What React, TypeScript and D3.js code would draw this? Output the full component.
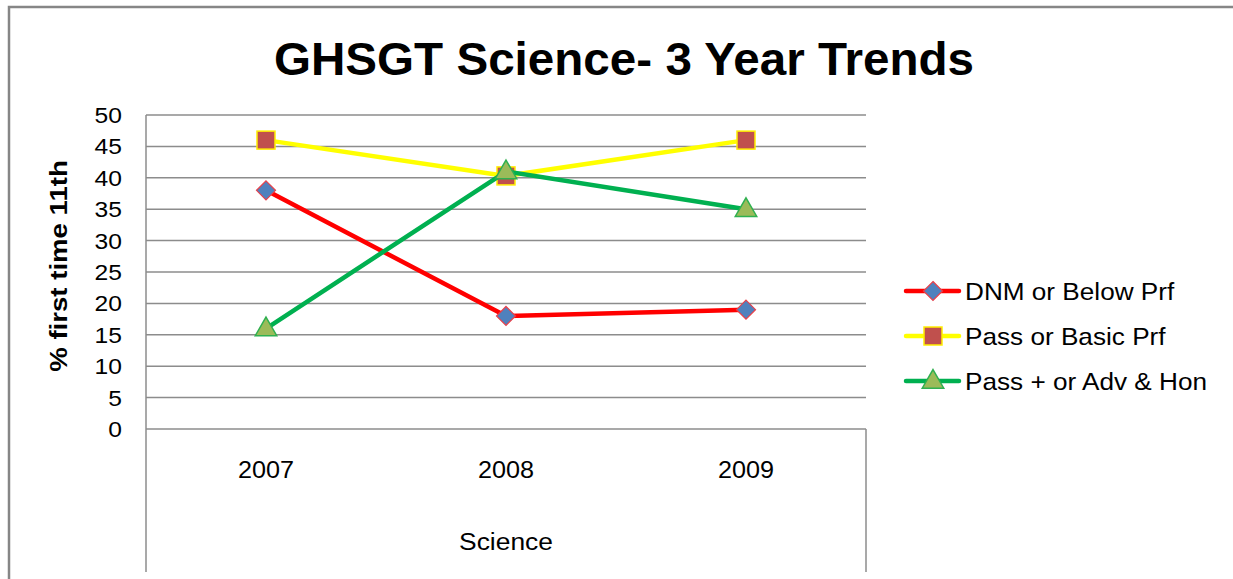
import React from "react";
import * as d3 from "d3";

const years = ["2007", "2008", "2009"];
const dnmBelow = [38, 18, 19];
const passBasic = [46, 40.3, 46];
const passPlusAdv = [16, 41, 35];
const yTicks = [0, 5, 10, 15, 20, 25, 30, 35, 40, 45, 50];

const seriesList = [
  { name: "DNM or Below Prf", values: dnmBelow, line: "#ff0000", fill: "#4f81bd", stroke: "#e8404a", shape: "diamond" },
  { name: "Pass or Basic Prf", values: passBasic, line: "#ffff00", fill: "#c0504d", stroke: "#ffee00", shape: "square" },
  { name: "Pass + or Adv & Hon", values: passPlusAdv, line: "#00b050", fill: "#9bbb59", stroke: "#2fb050", shape: "triangle" },
];

const W = 1233;
const H = 579;
const plot = { left: 146, right: 866, top: 115, bottom: 429 };
const font = "'Liberation Sans', Arial, sans-serif";

// text in the source picture is a little wider than Arial, so stretch it horizontally
function Txt({ x, y, sx = 1, rotate = 0, anchor = "start", size, bold, children }: any) {
  return (
    <text
      transform={`translate(${x},${y}) rotate(${rotate}) scale(${sx},1)`}
      textAnchor={anchor}
      fontSize={size}
      fontWeight={bold ? "bold" : "normal"}
    >
      {children}
    </text>
  );
}

function Marker({ shape, x, y, fill, stroke }: { shape: string; x: number; y: number; fill: string; stroke: string }) {
  if (shape === "diamond") {
    const r = 9.5;
    return (
      <path
        d={`M${x},${y - r}L${x + r},${y}L${x},${y + r}L${x - r},${y}Z`}
        fill={fill}
        stroke={stroke}
        strokeWidth={1.2}
      />
    );
  }
  if (shape === "square") {
    return <rect x={x - 9} y={y - 9} width={18} height={18} fill={fill} stroke={stroke} strokeWidth={1.5} />;
  }
  const p = d3.symbol().type(d3.symbolTriangle).size(200)();
  return <path d={p ?? ""} transform={`translate(${x},${y + 1})`} fill={fill} stroke={stroke} strokeWidth={1.5} />;
}

export default function App() {
  const x = d3.scaleBand().domain(years).range([plot.left, plot.right]);
  const y = d3.scaleLinear().domain([0, 50]).range([plot.bottom, plot.top]);
  const cx = (yr: string) => (x(yr) ?? 0) + x.bandwidth() / 2;
  const lineGen = d3
    .line<number>()
    .x((_, i) => cx(years[i]))
    .y((v) => y(v));

  return (
    <svg width={W} height={H} style={{ position: "absolute", left: 0, top: 0, background: "#fff" }} fontFamily={font}>
      {/* chart frame */}
      <path d={`M9,${H} V7 H${W}`} fill="none" stroke="#868686" strokeWidth={2.5} />

      <Txt x={624} y={75} sx={1.035} anchor="middle" size={46} bold>
        GHSGT Science- 3 Year Trends
      </Txt>

      {/* gridlines + y ticks */}
      {yTicks.map((t) => (
        <g key={t}>
          <line x1={plot.left} x2={plot.right} y1={y(t)} y2={y(t)} stroke="#8c8c8c" strokeWidth={1.5} />
          <Txt x={122} y={y(t) + 8} sx={1.12} anchor="end" size={22}>
            {t}
          </Txt>
        </g>
      ))}
      <line x1={plot.left} x2={plot.left} y1={plot.top} y2={572} stroke="#8c8c8c" strokeWidth={1.5} />
      <line x1={plot.right} x2={plot.right} y1={plot.bottom} y2={572} stroke="#8c8c8c" strokeWidth={1.5} />

      {years.map((yr) => (
        <Txt key={yr} x={cx(yr)} y={478} sx={1.05} anchor="middle" size={24}>
          {yr}
        </Txt>
      ))}
      <Txt x={(plot.left + plot.right) / 2} y={550} sx={1.1} anchor="middle" size={24}>
        Science
      </Txt>
      <Txt x={67} y={266} rotate={-90} sx={1.15} anchor="middle" size={24} bold>
        % first time 11th
      </Txt>

      {/* series */}
      {seriesList.map((s) => (
        <g key={s.name}>
          <path d={lineGen(s.values) ?? ""} fill="none" stroke={s.line} strokeWidth={4.5} strokeLinejoin="round" />
          {s.values.map((v, i) => (
            <Marker key={i} shape={s.shape} x={cx(years[i])} y={y(v)} fill={s.fill} stroke={s.stroke} />
          ))}
        </g>
      ))}

      {/* legend */}
      {seriesList.map((s, i) => {
        const ly = 291 + i * 45;
        return (
          <g key={s.name}>
            <line x1={906} x2={959} y1={ly} y2={ly} stroke={s.line} strokeWidth={4.5} strokeLinecap="round" />
            <Marker shape={s.shape} x={933} y={ly} fill={s.fill} stroke={s.stroke} />
            <Txt x={965} y={ly + 9} sx={1.09} size={24}>
              {s.name}
            </Txt>
          </g>
        );
      })}
    </svg>
  );
}
